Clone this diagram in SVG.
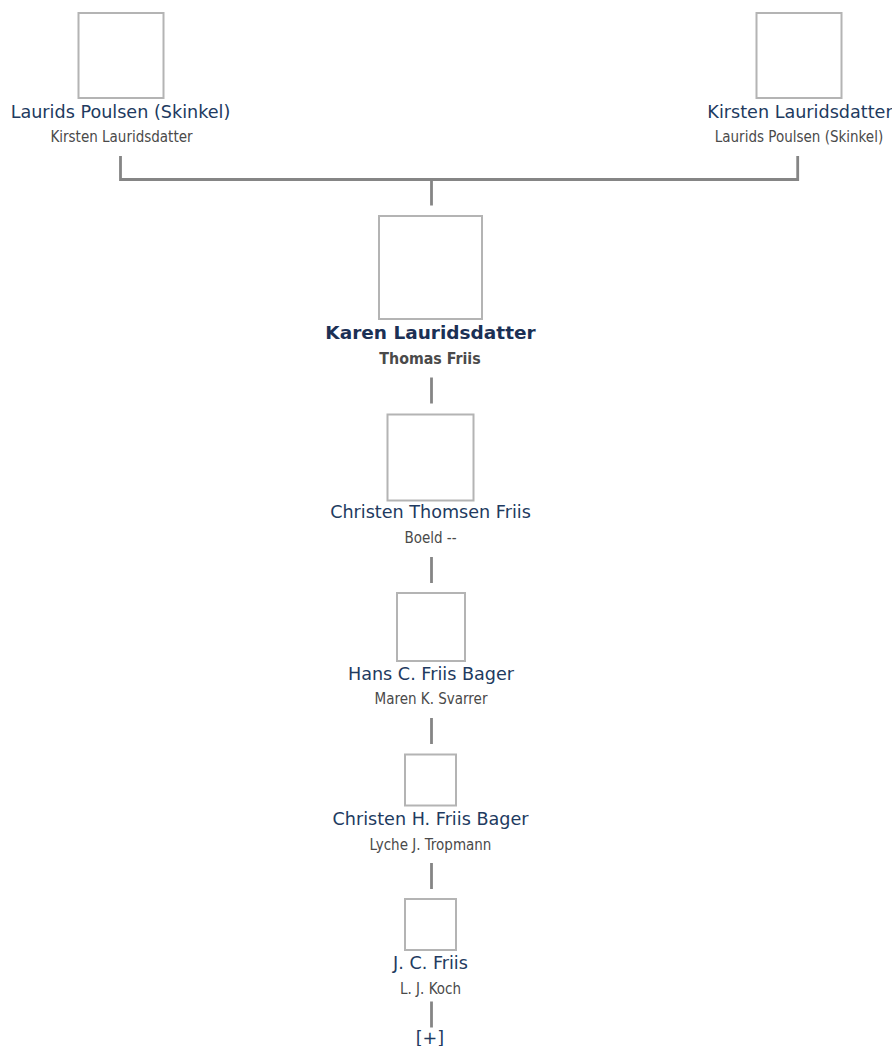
<svg xmlns="http://www.w3.org/2000/svg" width="892" height="1046" viewBox="0 0 892 1046">
<style>
.box{fill:#fff;stroke:#b4b4b4;stroke-width:2}
.nm{font-family:"DejaVu Sans",Verdana,sans-serif;font-size:17.6px;fill:#213a60;text-anchor:middle}
.nmb{font-family:"DejaVu Sans",Verdana,sans-serif;font-size:18.5px;font-weight:bold;fill:#1b3055;text-anchor:middle}
.sp{font-family:"DejaVu Sans Condensed","DejaVu Sans",Tahoma,sans-serif;font-size:15px;fill:#4a4a4a;text-anchor:middle}
.spb{font-family:"DejaVu Sans Condensed","DejaVu Sans",Tahoma,sans-serif;font-size:15.8px;font-weight:bold;fill:#4a4a4a;text-anchor:middle}
.ln{fill:none;stroke:#858585;stroke-width:2.8}
</style>
<rect width="892" height="1046" fill="#fff"/>
<g id="connectors">
<path class="ln" d="M120.5 156 V179.5 H797.7 V156"/>
<path class="ln" d="M431.5 179.5 V205.5"/>
<path class="ln" d="M431.5 377.5 V403.5"/>
<path class="ln" d="M431.5 557 V583"/>
<path class="ln" d="M431.5 718 V744"/>
<path class="ln" d="M431.5 863 V889"/>
<path class="ln" d="M431.5 1001.5 V1027.5"/>
</g>
<g id="node-laurids">
<rect class="box" x="78.5" y="13" width="85" height="85"/>
<text class="nm" x="120.5" y="117.5">Laurids Poulsen (Skinkel)</text>
<text class="sp" x="121.5" y="142">Kirsten Lauridsdatter</text>
</g>
<g id="node-kirsten">
<rect class="box" x="756.5" y="13" width="85" height="85"/>
<text class="nm" x="800" y="117.5">Kirsten Lauridsdatter</text>
<text class="sp" x="799" y="142">Laurids Poulsen (Skinkel)</text>
</g>
<g id="node-karen">
<rect class="box" x="379" y="216" width="103" height="103"/>
<text class="nmb" x="430.5" y="338.5">Karen Lauridsdatter</text>
<text class="spb" x="430" y="364">Thomas Friis</text>
</g>
<g id="node-christen-thomsen">
<rect class="box" x="387.5" y="414.5" width="86" height="86"/>
<text class="nm" x="430.5" y="517.5">Christen Thomsen Friis</text>
<text class="sp" x="430.5" y="543">Boeld --</text>
</g>
<g id="node-hans">
<rect class="box" x="397" y="593" width="68" height="68"/>
<text class="nm" x="431" y="679.5">Hans C. Friis Bager</text>
<text class="sp" x="431" y="704">Maren K. Svarrer</text>
</g>
<g id="node-christen-h">
<rect class="box" x="405" y="754.5" width="51" height="51"/>
<text class="nm" x="430.5" y="824.5">Christen H. Friis Bager</text>
<text class="sp" x="430.5" y="850">Lyche J. Tropmann</text>
</g>
<g id="node-jc">
<rect class="box" x="405" y="899" width="51" height="51"/>
<text class="nm" x="430.5" y="968.5">J. C. Friis</text>
<text class="sp" x="430.5" y="994">L. J. Koch</text>
</g>
<g id="node-more">
<text class="nm" x="430" y="1044">[+]</text>
</g>
</svg>
